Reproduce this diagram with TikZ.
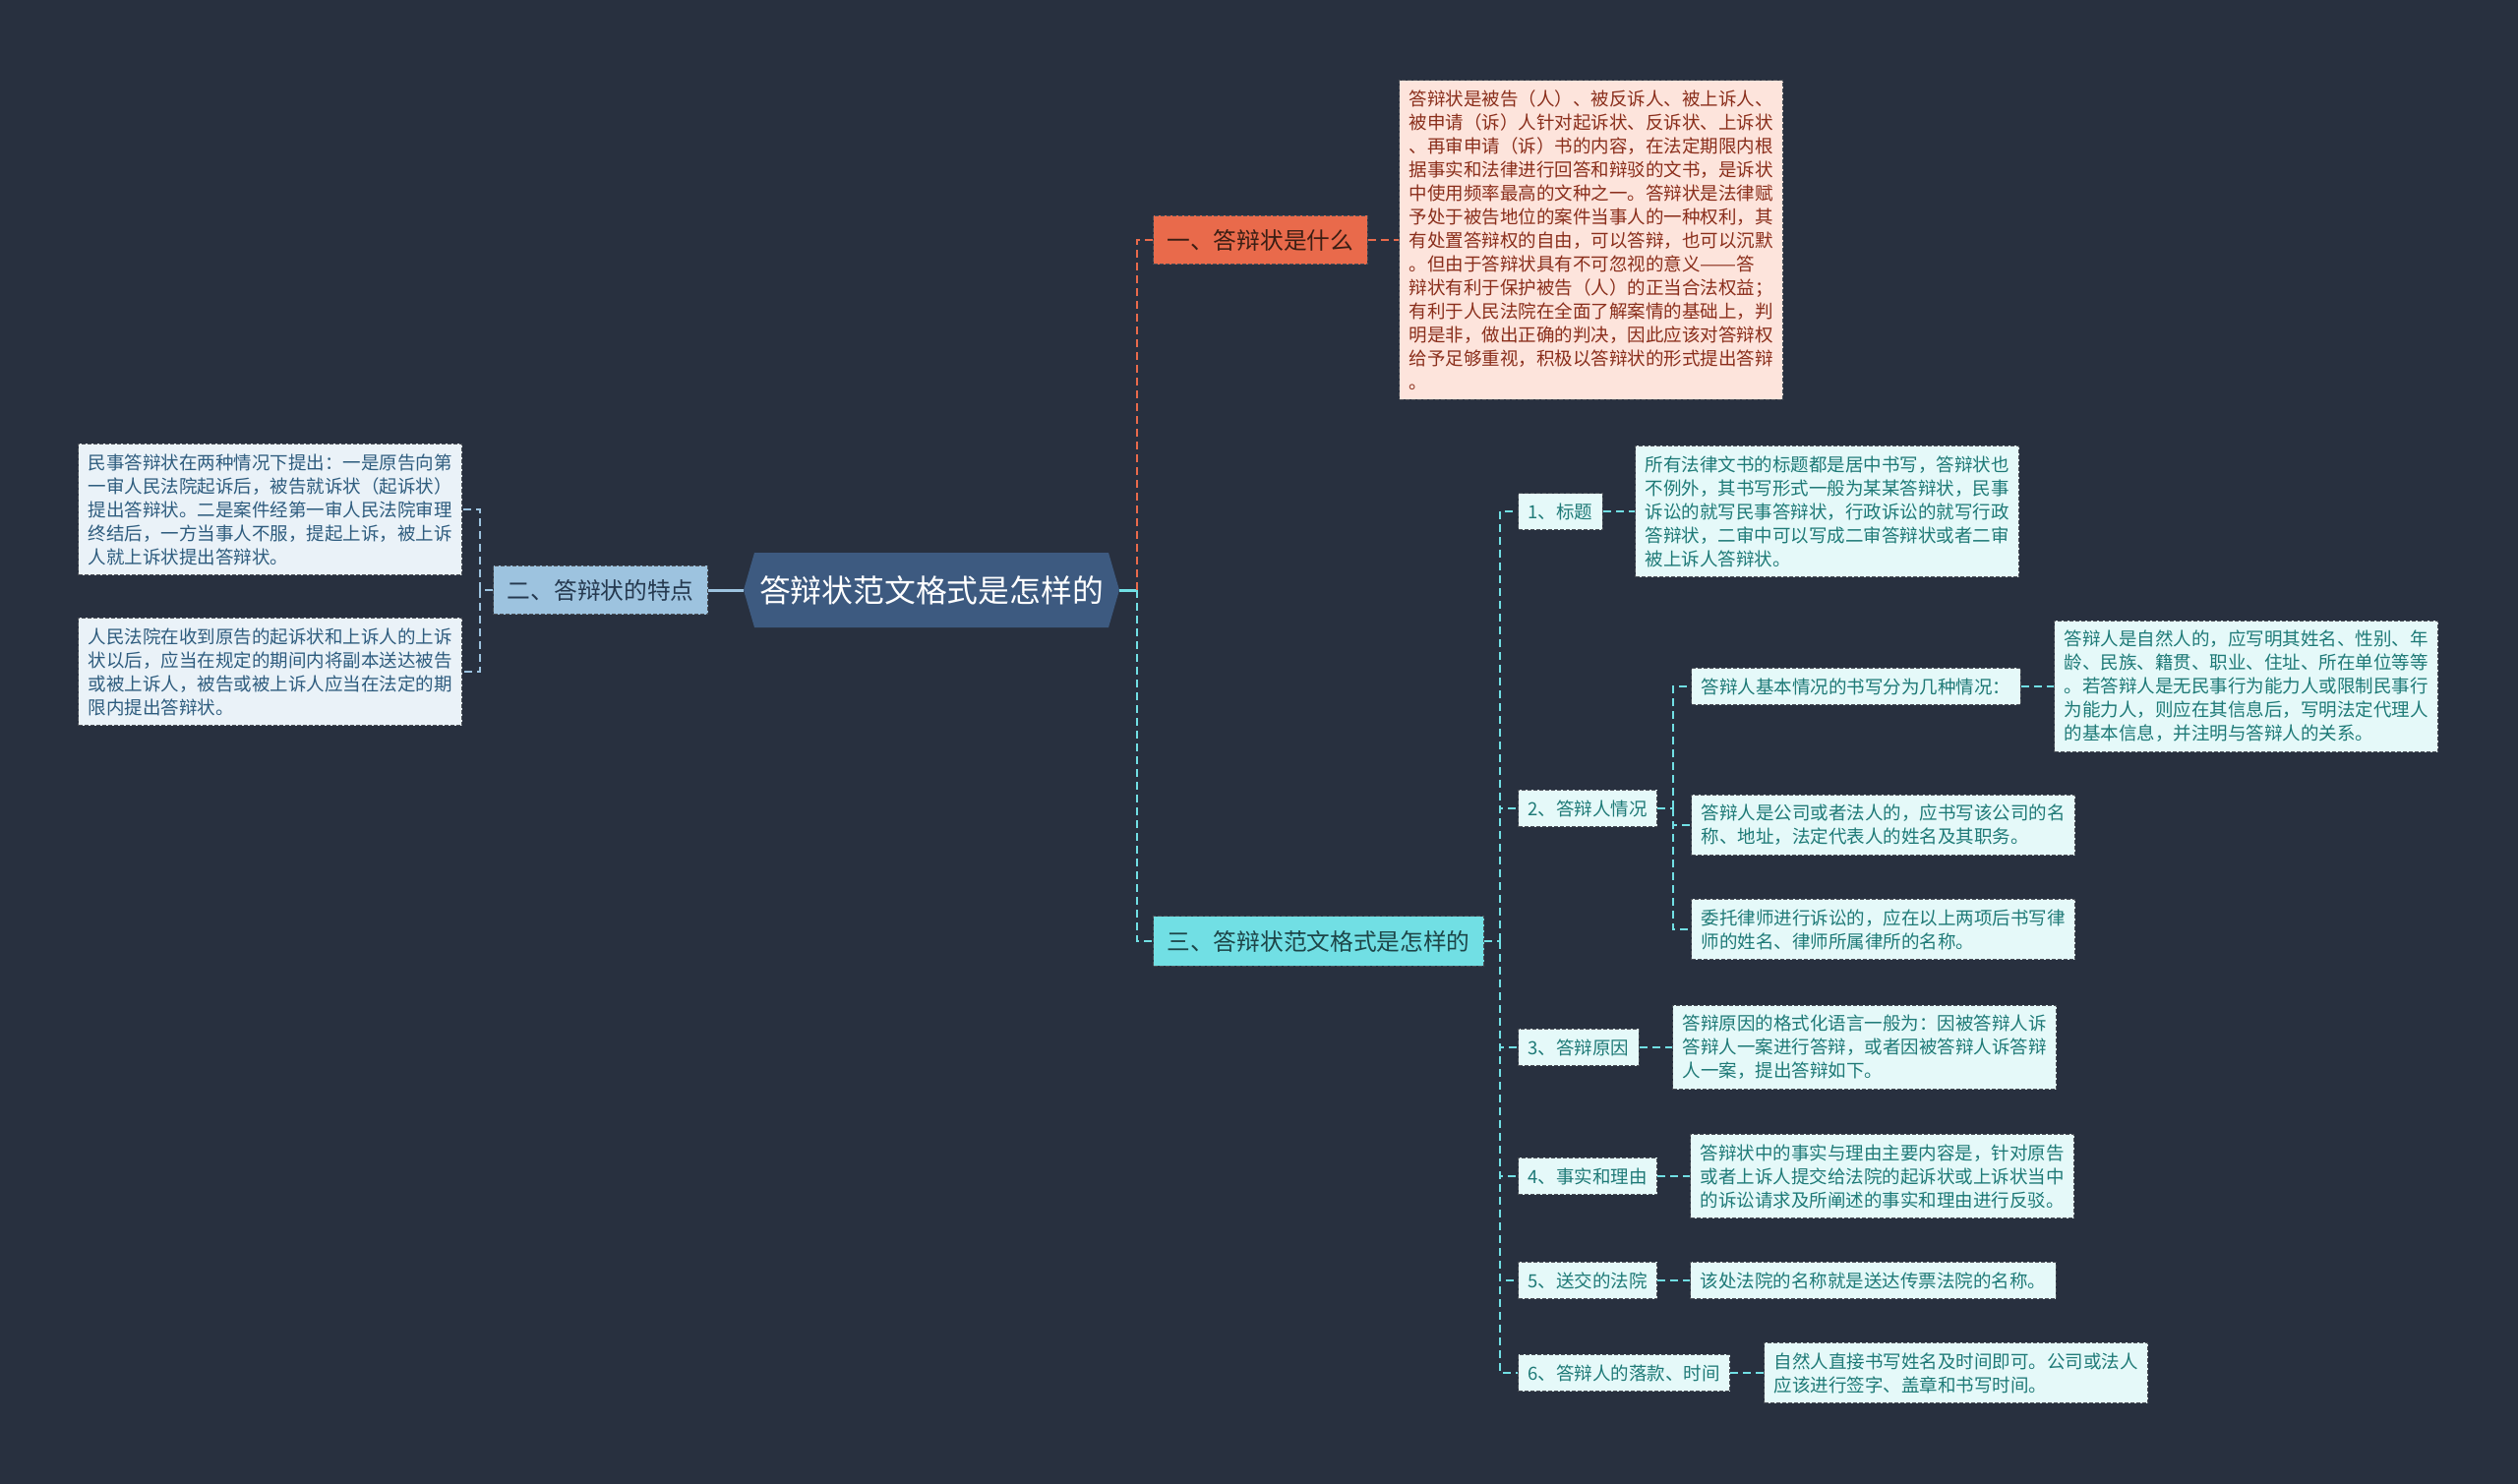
\documentclass[tikz,border=0pt]{standalone}
\usepackage{fontspec}
\usepackage{graphicx}
\setmainfont{Noto Sans CJK SC}

\begin{document}
\begin{tikzpicture}[x=1pt, y=-1pt,
    box/.style={draw=borderColour, dash pattern=on 4pt off 2pt, line width=1pt,
        align=left, inner xsep=10pt, inner ysep=10pt, font=\fontsize{18.5}{24}\selectfont},
    topic/.style={draw=borderColour, dash pattern=on 4pt off 2pt, line width=1pt,
        inner xsep=14pt, inner ysep=14pt, font=\fontsize{23.7}{28}\selectfont},
    oneBox/.style={box, fill=oneLeafFill, text=oneLeafText},
    twoBox/.style={box, fill=twoLeafFill, text=twoLeafText},
    threeBox/.style={box, fill=threeSubFill, text=threeSubText},
    link/.style={line width=2pt, dash pattern=on 8pt off 5pt}]

    % Define colours
    \definecolor{bgColour}{HTML}{28303F}
    \definecolor{borderColour}{HTML}{4A4F57}
    \definecolor{hubColour}{HTML}{3D5A80}
    \definecolor{oneColour}{HTML}{E96A4B}
    \definecolor{oneText}{HTML}{3B1E14}
    \definecolor{oneLeafFill}{HTML}{FDE4DC}
    \definecolor{oneLeafText}{HTML}{8A2E1B}
    \definecolor{twoColour}{HTML}{9DC3DF}
    \definecolor{twoText}{HTML}{25394F}
    \definecolor{twoLeafFill}{HTML}{EAF2F8}
    \definecolor{twoLeafText}{HTML}{2E5C7E}
    \definecolor{threeColour}{HTML}{71DFE4}
    \definecolor{threeText}{HTML}{1D4548}
    \definecolor{threeSubFill}{HTML}{E5F9F9}
    \definecolor{threeSubText}{HTML}{1E7A77}

    % Background and page size
    \fill[bgColour] (0,0) rectangle (2560,1509);
    \useasboundingbox (0,0) rectangle (2560,1509);

    % Draw the centre hexagon
    \fill[hubColour] (756,600) -- (767,562) -- (1127,562) -- (1138,600) -- (1127,638) -- (767,638) -- cycle;
    \node[minimum width=382, minimum height=76, text=white, font=\fontsize{31.8}{36}\selectfont] (hub) at (947,600) {答辩状范文格式是怎样的};

    % Main topics
    \node[topic, fill=oneColour, text=oneText, anchor=west] (one) at (1172,244) {一、答辩状是什么};
    \node[topic, fill=twoColour, text=twoText, anchor=east] (two) at (720,600) {二、答辩状的特点};
    \node[topic, fill=threeColour, text=threeText, anchor=west] (three) at (1172,957) {三、答辩状范文格式是怎样的};

    % Topic one
    \node[oneBox, anchor=west] (oneLeaf) at (1422,244) {答辩状是被告（人）、被反诉人、被上诉人、\\被申请（诉）人针对起诉状、反诉状、上诉状\\、再审申请（诉）书的内容，在法定期限内根\\据事实和法律进行回答和辩驳的文书，是诉状\\中使用频率最高的文种之一。答辩状是法律赋\\予处于被告地位的案件当事人的一种权利，其\\有处置答辩权的自由，可以答辩，也可以沉默\\。但由于答辩状具有不可忽视的意义\resizebox{2em}{\height}{——}答\\辩状有利于保护被告（人）的正当合法权益；\\有利于人民法院在全面了解案情的基础上，判\\明是非，做出正确的判决，因此应该对答辩权\\给予足够重视，积极以答辩状的形式提出答辩\\。};

    % Topic two
    \node[twoBox, anchor=east] (twoLeafA) at (470,518) {民事答辩状在两种情况下提出：一是原告向第\\一审人民法院起诉后，被告就诉状（起诉状）\\提出答辩状。二是案件经第一审人民法院审理\\终结后，一方当事人不服，提起上诉，被上诉\\人就上诉状提出答辩状。};
    \node[twoBox, anchor=east] (twoLeafB) at (470,683) {人民法院在收到原告的起诉状和上诉人的上诉\\状以后，应当在规定的期间内将副本送达被告\\或被上诉人，被告或被上诉人应当在法定的期\\限内提出答辩状。};

    % Topic three
    \node[threeBox, anchor=west] (subA) at (1543,520) {1、标题};
    \node[threeBox, anchor=west] (subB) at (1543,822) {2、答辩人情况};
    \node[threeBox, anchor=west] (subC) at (1543,1065) {3、答辩原因};
    \node[threeBox, anchor=west] (subD) at (1543,1196) {4、事实和理由};
    \node[threeBox, anchor=west] (subE) at (1543,1302) {5、送交的法院};
    \node[threeBox, anchor=west] (subF) at (1543,1396) {6、答辩人的落款、时间};

    \node[threeBox, anchor=west] (leafA) at (1662,520) {所有法律文书的标题都是居中书写，答辩状也\\不例外，其书写形式一般为某某答辩状，民事\\诉讼的就写民事答辩状，行政诉讼的就写行政\\答辩状，二审中可以写成二审答辩状或者二审\\被上诉人答辩状。};
    \node[threeBox, anchor=west] (leafB) at (1719,698) {答辩人基本情况的书写分为几种情况：};
    \node[threeBox, anchor=west] (leafBa) at (2088,698) {答辩人是自然人的，应写明其姓名、性别、年\\龄、民族、籍贯、职业、住址、所在单位等等\\。若答辩人是无民事行为能力人或限制民事行\\为能力人，则应在其信息后，写明法定代理人\\的基本信息，并注明与答辩人的关系。};
    \node[threeBox, anchor=west] (leafC) at (1719,839) {答辩人是公司或者法人的，应书写该公司的名\\称、地址，法定代表人的姓名及其职务。};
    \node[threeBox, anchor=west] (leafD) at (1719,945) {委托律师进行诉讼的，应在以上两项后书写律\\师的姓名、律师所属律所的名称。};
    \node[threeBox, anchor=west] (leafE) at (1700,1065) {答辩原因的格式化语言一般为：因被答辩人诉\\答辩人一案进行答辩，或者因被答辩人诉答辩\\人一案，提出答辩如下。};
    \node[threeBox, anchor=west] (leafF) at (1718,1196) {答辩状中的事实与理由主要内容是，针对原告\\或者上诉人提交给法院的起诉状或上诉状当中\\的诉讼请求及所阐述的事实和理由进行反驳。};
    \node[threeBox, anchor=west] (leafG) at (1718,1302) {该处法院的名称就是送达传票法院的名称。};
    \node[threeBox, anchor=west] (leafH) at (1793,1396) {自然人直接书写姓名及时间即可。公司或法人\\应该进行签字、盖章和书写时间。};

    % Joints of the branches
    \coordinate (trunk) at (1156,600);
    \coordinate (twoJoint) at (488,600);
    \coordinate (threeJoint) at (1525,957);
    \coordinate (subJoint) at (1701,822);

    % Connectors from the centre
    \draw[twoColour, line width=3pt] (hub.west) -- (two.east);
    \draw[threeColour, line width=3pt] (hub.east) -- (trunk);
    \draw[link, oneColour] (trunk) |- (one.west);
    \draw[link, threeColour] (trunk) |- (three.west);

    % Connectors of topic one
    \draw[link, oneColour] (one.east) -- (oneLeaf.west);

    % Connectors of topic two
    \draw[link, twoColour] (two.west) -- (twoJoint);
    \draw[link, twoColour] (twoJoint) |- (twoLeafA.east);
    \draw[link, twoColour] (twoJoint) |- (twoLeafB.east);

    % Connectors of topic three
    \draw[link, threeColour] (three.east) -- (threeJoint);
    \foreach \s in {subA,subB,subC,subD,subE,subF}
        \draw[link, threeColour] (threeJoint) |- (\s.west);
    \draw[link, threeColour] (subA.east) -- (leafA.west);
    \draw[link, threeColour] (subB.east) -- (subJoint);
    \foreach \s in {leafB,leafC,leafD}
        \draw[link, threeColour] (subJoint) |- (\s.west);
    \draw[link, threeColour] (leafB.east) -- (leafBa.west);
    \draw[link, threeColour] (subC.east) -- (leafE.west);
    \draw[link, threeColour] (subD.east) -- (leafF.west);
    \draw[link, threeColour] (subE.east) -- (leafG.west);
    \draw[link, threeColour] (subF.east) -- (leafH.west);

\end{tikzpicture}
\end{document}
